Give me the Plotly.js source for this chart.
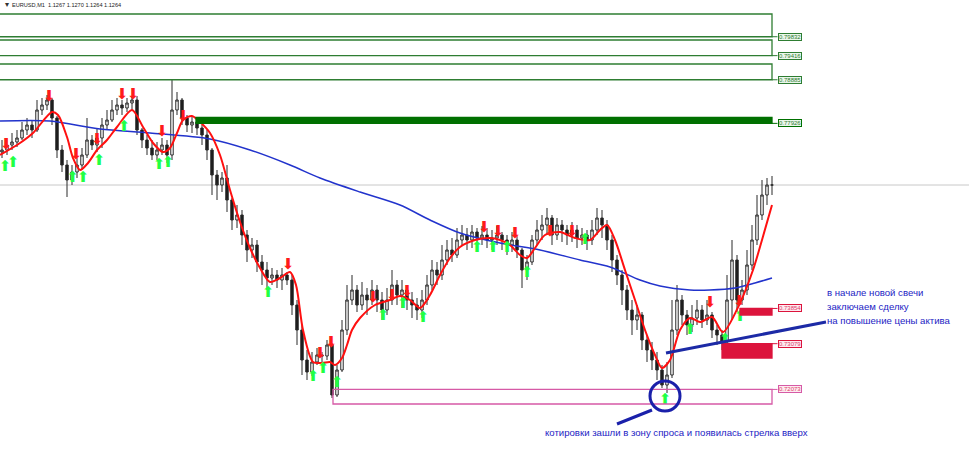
<!DOCTYPE html>
<html>
<head>
<meta charset="utf-8">
<script src="https://cdn.plot.ly/plotly-3.0.1.min.js"></script>
<style>
  html, body { margin: 0; padding: 0; background: #fff; }
  #chart { width: 969px; height: 471px; }
</style>
</head>
<body>
<div id="chart"></div>
<script>
// EURUSD M1 candles (prices), open of each bar = previous close
const firstOpen = 0.77296;
const closes = [
  0.77340,0.77450,0.77516,0.77604,0.77780,0.77890,0.77780,0.78220,0.78330,0.78440,
  0.78044,0.77340,0.77010,0.76680,0.76856,0.77010,0.77230,0.77560,0.77450,0.77604,
  0.77890,0.78000,0.78220,0.78330,0.78264,0.78374,0.78440,0.77780,0.77560,0.77384,
  0.77230,0.77340,0.77450,0.77230,0.78220,0.78440,0.78044,0.77890,0.77956,0.77824,
  0.77670,0.77340,0.76790,0.76570,0.76724,0.76240,0.75800,0.75910,0.75470,0.75140,
  0.75250,0.74876,0.74700,0.74524,0.74590,0.74480,0.74590,0.74480,0.73930,0.73380,
  0.72720,0.72456,0.72676,0.72830,0.72808,0.73050,0.71950,0.72500,0.73380,0.74040,
  0.74260,0.73930,0.74150,0.74040,0.74260,0.74040,0.73820,0.74040,0.74370,0.74150,
  0.74260,0.74040,0.73930,0.73820,0.74040,0.74370,0.74700,0.74590,0.74920,0.75140,
  0.75030,0.75360,0.75470,0.75360,0.75536,0.75404,0.75470,0.75360,0.75404,0.75470,
  0.75360,0.75250,0.75360,0.75140,0.74700,0.74876,0.75360,0.75580,0.75690,0.75844,
  0.75470,0.75690,0.75580,0.75470,0.75580,0.75404,0.75470,0.75360,0.75580,0.75844,
  0.75690,0.75360,0.74920,0.74590,0.74260,0.73820,0.73600,0.73710,0.73160,0.72940,
  0.72720,0.72500,0.72170,0.72390,0.73380,0.74040,0.73710,0.73490,0.73644,0.73820,
  0.73600,0.73710,0.73380,0.73270,0.73116,0.74040,0.74920,0.74040,0.74260,0.74810,
  0.75360,0.75910,0.76350,0.76570,0.76570
];
const highs = [
  0.77560,0.77604,0.77714,0.77780,0.77956,0.78044,0.78000,0.78440,0.78484,0.78550,
  0.78484,0.78088,0.77450,0.77120,0.77010,0.77164,0.77384,0.78044,0.77670,0.77824,
  0.78044,0.78220,0.78440,0.78484,0.78440,0.78484,0.78506,0.78528,0.77824,0.77670,
  0.77560,0.77516,0.77604,0.77560,0.78880,0.78616,0.78484,0.78110,0.78088,0.78044,
  0.77890,0.77780,0.77384,0.76900,0.76856,0.77010,0.76284,0.76130,0.76020,0.75580,
  0.75404,0.75360,0.75030,0.74876,0.74744,0.74700,0.74744,0.74656,0.74590,0.74040,
  0.73490,0.72940,0.72896,0.72984,0.72896,0.73160,0.73094,0.72610,0.73600,0.74370,
  0.74590,0.74370,0.74436,0.74304,0.74480,0.74370,0.74216,0.74304,0.74700,0.74480,
  0.74480,0.74370,0.74216,0.74084,0.74260,0.74590,0.74920,0.74876,0.75250,0.75360,
  0.75404,0.75624,0.75690,0.75624,0.75690,0.75624,0.75668,0.75624,0.75580,0.75668,
  0.75536,0.75470,0.75536,0.75448,0.75184,0.75030,0.75470,0.75800,0.75910,0.76064,
  0.75910,0.75844,0.75800,0.75690,0.75756,0.75690,0.75624,0.75580,0.75800,0.76064,
  0.76020,0.75800,0.75470,0.75030,0.74700,0.74370,0.74040,0.73930,0.73776,0.73270,
  0.73116,0.72896,0.72610,0.72676,0.74040,0.74370,0.74150,0.73820,0.73930,0.74040,
  0.73930,0.74040,0.73776,0.73490,0.73380,0.74590,0.75360,0.75030,0.74480,0.75140,
  0.75690,0.76350,0.76680,0.76724,0.76768
];
const lows = [
  0.77164,0.77230,0.77340,0.77406,0.77560,0.77670,0.77604,0.77736,0.78110,0.78220,
  0.77890,0.77164,0.76856,0.76306,0.76570,0.76724,0.76900,0.77164,0.77340,0.77296,
  0.77384,0.77780,0.77956,0.78110,0.78110,0.78176,0.78220,0.77670,0.77384,0.77230,
  0.77120,0.77120,0.77230,0.77054,0.77120,0.78110,0.77890,0.77736,0.77714,0.77670,
  0.77450,0.77120,0.76350,0.76240,0.76416,0.75976,0.75580,0.75624,0.75250,0.74876,
  0.74964,0.74656,0.74370,0.74260,0.74370,0.74304,0.74260,0.74370,0.73710,0.73050,
  0.72390,0.72280,0.72368,0.72610,0.72676,0.72720,0.71884,0.71906,0.72456,0.73270,
  0.73930,0.73776,0.73820,0.73710,0.73930,0.73776,0.73600,0.73710,0.73930,0.73930,
  0.73864,0.73820,0.73644,0.73600,0.73644,0.73930,0.74260,0.74370,0.74480,0.74810,
  0.74876,0.74964,0.75250,0.75140,0.75184,0.75250,0.75250,0.75184,0.75140,0.75250,
  0.75140,0.75030,0.75096,0.74964,0.74304,0.74480,0.74810,0.75250,0.75360,0.75470,
  0.75250,0.75360,0.75316,0.75250,0.75316,0.75184,0.75250,0.75140,0.75250,0.75470,
  0.75404,0.75140,0.74656,0.74370,0.73930,0.73600,0.73270,0.73380,0.72940,0.72676,
  0.72500,0.72280,0.72104,0.71994,0.72324,0.73270,0.73490,0.73270,0.73336,0.73490,
  0.73424,0.73490,0.73204,0.73050,0.72940,0.73050,0.73600,0.73776,0.73930,0.74150,
  0.74700,0.75250,0.75800,0.76130,0.76350
];

// fast moving average (red), sampled points: bar index / price
const fastMaX = [-0.4,3.6,6.2,10,11.2,13,14.2,15.6,17.2,19,21,23,26,28.2,30.2,32.2,33.6,35,36.2,38,39.6,41.6,43.6,45.6,47.6,49.6,51.6,53.6,55.6,57.6,58.8,60.2,62.2,64,65.6,66.6,68,69,70,71.6,74.6,77.6,79.6,81.6,83.6,85.6,87.6,89.6,91.6,94.6,97.6,99.6,101.6,103.6,105,106.6,108.6,111.6,114.6,117.6,119.6,121,122.6,124.6,126.6,128.6,130.6,132,133.6,135.6,137.6,139.6,142,144.2,147.6,150.2,152,154];
const fastMaY = [0.77230,0.77494,0.77714,0.78176,0.78110,0.77626,0.77164,0.76900,0.77054,0.77340,0.77560,0.77846,0.78220,0.77846,0.77494,0.77296,0.77384,0.77714,0.78000,0.78088,0.77956,0.77714,0.77230,0.76460,0.75756,0.75184,0.74744,0.74436,0.74524,0.74656,0.74370,0.73380,0.72676,0.72654,0.72676,0.72610,0.72764,0.73050,0.73380,0.73644,0.73930,0.74040,0.74128,0.74040,0.73864,0.74150,0.74590,0.74964,0.75206,0.75360,0.75404,0.75360,0.75250,0.75030,0.74964,0.75184,0.75470,0.75536,0.75404,0.75360,0.75580,0.75690,0.75360,0.74700,0.74040,0.73380,0.72830,0.72544,0.72720,0.73380,0.73644,0.73556,0.73666,0.73336,0.73974,0.74700,0.75360,0.76130];

// slow moving average (blue)
const slowMaX = [-0.4,9.6,19.6,29.6,41.6,49.6,57.6,63.6,71.6,79.6,85.6,91.6,99.6,107.6,115.6,121.6,127.6,131.6,137.6,141.6,146.6,150.6,154];
const slowMaY = [0.77978,0.77978,0.77802,0.77714,0.77582,0.77340,0.77010,0.76724,0.76416,0.76130,0.75800,0.75514,0.75294,0.75140,0.74920,0.74766,0.74480,0.74348,0.74260,0.74260,0.74304,0.74414,0.74524];

// signal arrows: bar index / price
const sellX = [0.8,9.4,14.8,19,24,26.2,32,36.2,57.2,63.6,65.8,74.2,78,81,96.4,99.2,102.6,109.6,114,141.6,147.4];
const sellY = [0.77450,0.78506,0.77230,0.77560,0.78550,0.78550,0.77736,0.78066,0.74810,0.72852,0.73094,0.74084,0.74128,0.74216,0.75624,0.75536,0.75492,0.75536,0.75536,0.73974,0.73996];
const buyX = [0.6,2.2,14.1,16.2,19.4,24.4,31.4,33.2,53.2,62.2,64.2,67,76.2,80.2,84.2,95,98.2,101,105,116.6,132.6,137.6,144.6,147.6];
const buyY = [0.76966,0.77054,0.76724,0.76724,0.77098,0.77846,0.77010,0.77054,0.74194,0.72346,0.72522,0.72214,0.73688,0.73952,0.73644,0.75184,0.75184,0.75184,0.74634,0.75360,0.71840,0.73380,0.73160,0.73666];

// supply / demand zones
const zoneStart  = [-5, -5, -5, 38.8, 147.6, 144, 66.2];
const zoneEnd    = [154, 154, 154, 154, 154, 154, 154];
const zoneTop    = [0.80332, 0.79760, 0.79232, 0.78055, 0.73854, 0.73079, 0.72073];
const zoneBottom = [0.79832, 0.79416, 0.78885, 0.77926, 0.73710, 0.72764, 0.71752];
const zoneLevel  = [0.79832, 0.79416, 0.78885, 0.77926, 0.73854, 0.73079, 0.72073];
const zoneKind   = ['supply','supply','supply','supplyFill','demandFill','demandFill','demand'];

// trend line and signal marker (bar index / price)
const trendX = [132.8, 164.8];
const trendY = [0.72874, 0.73556];
const ringX = [129.6, 135.6];
const ringY = [0.71598, 0.72258];
const pointerX = [130, 123];
const pointerY = [0.71620, 0.71312];

const headerText = 'EURUSD,M1  1.1267 1.1270 1.1264 1.1264';
const noteRight = ['в начале новой свечи', 'заключаем сделку', 'на повышение цены актива'];
const noteBottom = 'котировки зашли в зону спроса и появилась стрелка вверх';

const opens = closes.map((c, i) => i === 0 ? firstOpen : closes[i - 1]);
const idx = closes.map((_, i) => i);

const arrowFont = 'DejaVu Sans';
const traces = [
  {
    type: 'candlestick', x: idx, open: opens, high: highs, low: lows, close: closes,
    increasing: { line: { color: '#2a2a2a', width: 1 }, fillcolor: '#ffffff' },
    decreasing: { line: { color: '#2a2a2a', width: 1 }, fillcolor: '#1a1a1a' },
    whiskerwidth: 0, hoverinfo: 'skip'
  },
  { type: 'scatter', mode: 'lines', x: slowMaX, y: slowMaY,
    line: { color: '#2233cc', width: 1.5, shape: 'spline', smoothing: 0.8 }, hoverinfo: 'skip' },
  { type: 'scatter', mode: 'lines', x: fastMaX, y: fastMaY,
    line: { color: '#ff1010', width: 2, shape: 'spline', smoothing: 0.8 }, hoverinfo: 'skip' },
  { type: 'scatter', mode: 'text', x: sellX, y: sellY, text: sellX.map(() => '⬇'),
    textfont: { family: arrowFont, size: 15, color: '#ff1a1a' }, hoverinfo: 'skip' },
  { type: 'scatter', mode: 'text', x: buyX, y: buyY, text: buyX.map(() => '⬆'),
    textfont: { family: arrowFont, size: 15, color: '#22ff44' }, hoverinfo: 'skip' }
];

const lastClose = closes[closes.length - 1];
const shapes = [
  { type: 'line', xref: 'paper', x0: 0, x1: 1, y0: lastClose, y1: lastClose,
    line: { color: '#c8c8c8', width: 1 }, layer: 'below' }
];
const annotations = [];

const zoneStyle = {
  supply:     { line: '#2e7d32', fill: 'rgba(0,0,0,0)', txt: '#2e7d32', bg: '#eaf6ea' },
  supplyFill: { line: '#007000', fill: '#007000',       txt: '#2e7d32', bg: '#eaf6ea' },
  demandFill: { line: '#dc143c', fill: '#dc143c',       txt: '#e0406a', bg: '#fdeaf0' },
  demand:     { line: '#d65aa6', fill: 'rgba(0,0,0,0)', txt: '#e0406a', bg: '#fdeaf0' }
};
zoneTop.forEach((top, k) => {
  const st = zoneStyle[zoneKind[k]];
  shapes.push({ type: 'rect', x0: zoneStart[k], x1: zoneEnd[k], y0: zoneBottom[k], y1: top,
    line: { color: st.line, width: 1.3 }, fillcolor: st.fill });
  shapes.push({ type: 'line', x0: zoneEnd[k], x1: zoneEnd[k] + 1.1, y0: zoneLevel[k], y1: zoneLevel[k],
    line: { color: st.line, width: 1 } });
  annotations.push({ x: zoneEnd[k] + 1.1, y: zoneLevel[k], xanchor: 'left', yanchor: 'middle',
    text: zoneLevel[k].toFixed(5), showarrow: false,
    font: { family: 'Liberation Sans', size: 6, color: st.txt },
    bgcolor: st.bg, bordercolor: st.line, borderwidth: 1, borderpad: 0 });
});

shapes.push({ type: 'line', x0: trendX[0], x1: trendX[1], y0: trendY[0], y1: trendY[1],
  line: { color: '#1c2aa6', width: 3 } });
shapes.push({ type: 'circle', x0: ringX[0], x1: ringX[1], y0: ringY[0], y1: ringY[1],
  line: { color: '#1a20aa', width: 3 } });
shapes.push({ type: 'line', x0: pointerX[0], x1: pointerX[1], y0: pointerY[0], y1: pointerY[1],
  line: { color: '#1a20aa', width: 3 } });

const W = 969, H = 471;
const px = v => v / W, py = v => 1 - v / H;
const noteFont = { family: 'Liberation Sans', size: 9.6, color: '#1c1cc4' };
annotations.push({ xref: 'paper', yref: 'paper', x: px(3), y: py(5), xanchor: 'left', yanchor: 'middle',
  text: '▾', showarrow: false, font: { family: 'DejaVu Sans', size: 8, color: '#333' } });
annotations.push({ xref: 'paper', yref: 'paper', x: px(10), y: py(5), xanchor: 'left', yanchor: 'middle',
  text: headerText, showarrow: false, font: { family: 'Liberation Sans', size: 5.6, color: '#222' } });
noteRight.forEach((t, k) => {
  annotations.push({ xref: 'paper', yref: 'paper', x: px(825), y: py(292 + k * 14.2), xanchor: 'left', yanchor: 'middle',
    text: t, showarrow: false, font: noteFont });
});
annotations.push({ xref: 'paper', yref: 'paper', x: px(543), y: py(432), xanchor: 'left', yanchor: 'middle',
  text: noteBottom, showarrow: false, font: noteFont });

const layout = {
  width: W, height: H,
  margin: { l: 0, r: 0, t: 0, b: 0 },
  paper_bgcolor: '#ffffff', plot_bgcolor: '#ffffff',
  showlegend: false, hovermode: false,
  xaxis: { range: [-0.4, 193.4], visible: false, rangeslider: { visible: false }, fixedrange: true },
  yaxis: { range: [0.70278, 0.8064], visible: false, fixedrange: true },
  shapes: shapes, annotations: annotations
};

Plotly.newPlot('chart', traces, layout, { staticPlot: true, displayModeBar: false });
</script>
</body>
</html>
